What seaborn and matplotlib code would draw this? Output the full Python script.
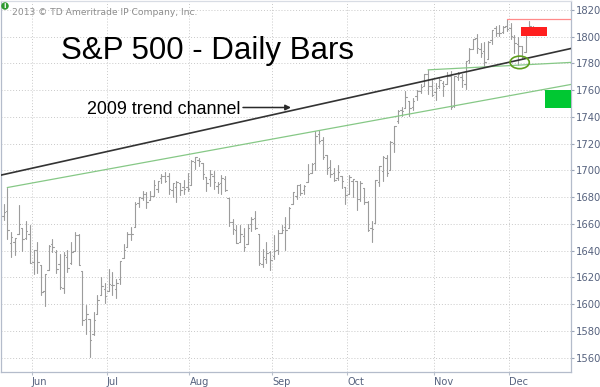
import numpy as np
import pandas as pd
import matplotlib
matplotlib.use("Agg")
import matplotlib.pyplot as plt
import seaborn as sns
from matplotlib.patches import Ellipse, Rectangle

# ---------------- data: S&P 500 daily bars, 21 May 2013 - 10 Dec 2013 ----------------
start_date = "2013-05-21"
end_date = "2013-12-10"
market_holidays = ["2013-05-27", "2013-07-04", "2013-09-02", "2013-11-28"]

open_ = [
    1666.20, 1669.39, 1646.00, 1646.67, 1652.63, 1656.57, 1649.14, 1652.13,
    1631.71, 1640.73, 1629.05, 1609.94, 1625.27, 1644.67, 1638.64, 1629.94, 1612.15, 1635.52,
    1630.64, 1639.77, 1651.83, 1624.62, 1588.62, 1588.77, 1577.52, 1592.27, 1606.44, 1611.12,
    1609.78, 1614.29, 1611.48, 1618.65, 1634.20, 1642.89, 1652.28, 1657.41, 1675.26, 1679.59, 1682.70,
    1677.91, 1681.05, 1686.15, 1694.41, 1695.53, 1696.06, 1685.21, 1687.31, 1690.32, 1687.92, 1687.76,
    1689.42, 1706.10, 1708.01, 1705.79, 1695.30, 1693.35, 1696.10, 1688.37, 1690.65, 1693.88, 1679.61,
    1661.22, 1655.25, 1646.81, 1650.66, 1645.03, 1659.92, 1664.29, 1652.54, 1630.25, 1633.50, 1638.89,
    1635.95, 1640.72, 1653.28, 1657.44, 1656.85, 1675.11, 1681.04, 1689.21, 1685.04, 1691.70,
    1697.73, 1705.74, 1727.34, 1722.44, 1711.44, 1702.60, 1698.02, 1694.05, 1695.52, 1687.26,
    1682.41, 1691.90, 1692.35, 1678.79, 1687.15, 1676.22, 1656.99, 1660.88, 1691.09, 1699.86, 1709.17,
    1700.49, 1720.17, 1736.72, 1745.20, 1746.48, 1752.27, 1747.48, 1756.01, 1759.42, 1762.93, 1772.27, 1763.24,
    1758.70, 1763.40, 1765.67, 1765.00, 1770.74, 1748.37, 1769.96, 1769.51, 1764.37, 1782.75,
    1790.66, 1798.82, 1790.79, 1789.59, 1783.52, 1797.21, 1806.33, 1802.87, 1803.48, 1808.09,
    1806.55, 1800.10, 1794.46, 1792.82, 1788.36, 1806.21, 1807.51,
]
high = [
    1674.93, 1687.18, 1654.19, 1649.78, 1674.21, 1656.57, 1661.91, 1658.99,
    1640.42, 1646.53, 1629.31, 1622.56, 1644.40, 1648.69, 1640.13, 1637.71, 1639.25, 1640.80,
    1646.50, 1654.19, 1652.45, 1624.62, 1599.19, 1588.77, 1593.79, 1606.83, 1620.07, 1615.94,
    1626.61, 1624.26, 1618.97, 1632.07, 1644.68, 1654.18, 1657.92, 1676.63, 1680.19, 1684.51, 1683.73,
    1684.75, 1693.12, 1692.09, 1697.61, 1698.78, 1698.38, 1690.94, 1691.85, 1690.92, 1693.19, 1698.43,
    1707.85, 1709.67, 1709.24, 1705.79, 1695.30, 1700.18, 1699.42, 1691.49, 1696.81, 1695.52, 1679.61,
    1663.60, 1659.18, 1658.92, 1656.99, 1659.55, 1664.85, 1669.51, 1652.54, 1641.18, 1646.41, 1640.08,
    1651.35, 1655.72, 1659.17, 1664.83, 1672.40, 1684.09, 1689.13, 1689.97, 1688.73, 1704.95,
    1705.52, 1729.44, 1729.86, 1725.23, 1711.44, 1707.63, 1701.71, 1703.85, 1695.52, 1687.26,
    1696.55, 1693.87, 1692.35, 1691.94, 1687.15, 1676.79, 1662.47, 1692.56, 1703.44, 1711.03, 1711.57,
    1721.76, 1733.45, 1745.31, 1747.79, 1759.33, 1752.27, 1753.94, 1759.82, 1764.99, 1772.09, 1775.22, 1768.53,
    1765.67, 1768.78, 1767.03, 1773.74, 1774.54, 1770.78, 1773.44, 1771.78, 1782.00, 1791.53,
    1798.22, 1802.33, 1795.51, 1795.73, 1797.16, 1804.84, 1808.10, 1808.42, 1808.27, 1813.55,
    1810.02, 1800.99, 1799.80, 1792.82, 1806.04, 1811.52, 1808.37,
]
low = [
    1662.67, 1648.86, 1635.53, 1636.88, 1652.63, 1640.05, 1648.61, 1630.74,
    1622.72, 1623.62, 1607.09, 1598.23, 1625.27, 1639.26, 1622.92, 1610.92, 1608.07, 1623.96,
    1630.34, 1639.77, 1628.91, 1584.32, 1577.70, 1560.33, 1577.09, 1592.27, 1606.44, 1601.06,
    1609.78, 1606.77, 1604.57, 1614.71, 1634.20, 1642.89, 1647.66, 1657.41, 1672.33, 1677.89, 1671.84,
    1677.91, 1681.05, 1684.08, 1690.67, 1691.31, 1682.57, 1680.07, 1676.03, 1681.86, 1682.42, 1684.94,
    1689.42, 1700.68, 1703.55, 1693.29, 1684.91, 1688.38, 1686.02, 1683.35, 1682.62, 1684.83, 1658.59,
    1652.61, 1645.84, 1646.08, 1639.43, 1645.03, 1654.81, 1656.02, 1629.05, 1627.47, 1630.88, 1625.27,
    1633.41, 1637.41, 1653.07, 1640.62, 1656.85, 1675.11, 1678.70, 1681.96, 1682.22, 1691.70,
    1697.73, 1700.35, 1720.20, 1708.89, 1697.10, 1694.90, 1691.88, 1693.11, 1687.11, 1674.99,
    1682.07, 1680.34, 1670.36, 1677.33, 1674.70, 1655.03, 1646.47, 1660.88, 1688.52, 1692.13, 1695.93,
    1700.49, 1714.12, 1735.74, 1740.67, 1746.48, 1740.50, 1745.50, 1752.45, 1757.67, 1762.93, 1757.24, 1755.72,
    1752.70, 1761.56, 1755.76, 1764.40, 1746.20, 1747.63, 1767.85, 1762.29, 1760.64, 1780.22,
    1790.66, 1788.00, 1784.72, 1777.23, 1783.52, 1794.70, 1800.58, 1800.77, 1802.77, 1803.98,
    1798.60, 1787.85, 1779.09, 1783.38, 1788.36, 1806.21, 1801.42,
]
close = [
    1669.16, 1655.35, 1650.51, 1649.60, 1660.06, 1648.36, 1654.41, 1630.74,
    1640.42, 1631.38, 1608.90, 1622.56, 1643.38, 1642.81, 1626.13, 1612.52, 1636.36, 1626.73,
    1639.04, 1651.81, 1628.93, 1588.19, 1592.43, 1573.09, 1588.03, 1603.26, 1613.20, 1606.28,
    1614.96, 1614.08, 1615.41, 1631.89, 1640.46, 1652.32, 1652.62, 1675.02, 1680.19, 1682.50, 1676.26,
    1680.91, 1689.37, 1692.09, 1695.53, 1692.39, 1685.94, 1690.25, 1691.65, 1685.33, 1685.96, 1685.73,
    1706.87, 1709.67, 1707.14, 1697.37, 1690.91, 1697.48, 1691.42, 1689.47, 1694.16, 1685.39, 1661.32,
    1655.83, 1646.06, 1652.35, 1642.80, 1656.96, 1663.50, 1656.78, 1630.48, 1634.96, 1638.17, 1632.97,
    1639.77, 1653.08, 1655.08, 1655.17, 1671.71, 1683.99, 1689.13, 1683.42, 1687.99, 1697.60,
    1704.76, 1725.52, 1722.34, 1709.91, 1701.84, 1697.42, 1692.77, 1698.67, 1691.75, 1681.55,
    1695.00, 1693.87, 1678.66, 1690.50, 1676.12, 1655.45, 1656.40, 1692.56, 1703.20, 1710.14, 1698.06,
    1721.54, 1733.15, 1744.50, 1744.66, 1754.67, 1746.38, 1752.07, 1759.77, 1762.11, 1771.95, 1763.31, 1756.54,
    1761.64, 1767.93, 1762.97, 1770.49, 1747.15, 1770.61, 1771.89, 1767.69, 1782.00, 1790.62,
    1798.18, 1791.53, 1787.87, 1781.37, 1795.85, 1804.76, 1802.48, 1802.75, 1807.23, 1805.81,
    1800.90, 1795.15, 1792.81, 1785.03, 1805.09, 1808.37, 1802.62,
]

month_labels = ["Jun", "Jul", "Aug", "Sep", "Oct", "Nov", "Dec"]
y_ticks = [1560, 1580, 1600, 1620, 1640, 1660, 1680, 1700, 1720, 1740, 1760, 1780, 1800, 1820]

# annotation lines (start date, start value, end value at right edge)
trend_2009_values = [1696.4, 1791.2]              # black 2009 channel line, left edge -> right edge
green_lower_start = ("2013-05-22", 1687.18)
green_lower_end_value = 1764.3
green_upper_start = ("2013-10-30", 1775.22)
green_upper_end_value = 1780.8
red_line_start = ("2013-11-29", 1813.55)
red_box_values = [1800.8, 1807.2]
green_box_values = [1746.9, 1760.4]
ellipse_value = 1780.8

title_text = "S&P 500 - Daily Bars"
channel_text = "2009 trend channel"
copyright_text = "2013 \u00a9 TD Ameritrade IP Company, Inc."

# ---------------- derived ----------------
dates = pd.bdate_range(start_date, end_date)
dates = dates[~dates.isin(pd.to_datetime(market_holidays))]
n = len(close)
assert len(dates) == n == len(open_) == len(high) == len(low)
date_pos = {d.strftime("%Y-%m-%d"): i for i, d in enumerate(dates)}
idx = np.arange(n)

tw = 0.38
rows = []
for i in idx:
    rows += [(i, low[i], 3 * i), (i, high[i], 3 * i),
             (i - tw, open_[i], 3 * i + 1), (i, open_[i], 3 * i + 1),
             (i, close[i], 3 * i + 2), (i + tw, close[i], 3 * i + 2)]
seg = pd.DataFrame(rows, columns=["x", "y", "seg"])

first_of_month = pd.Series(idx, index=dates).groupby(dates.to_period("M")).min()
month_pos = [p - 0.5 for p in first_of_month.values[1:]]

# ---------------- plot ----------------
sns.set_theme(style="white")
plt.rcParams["font.family"] = ["DejaVu Sans"]

W, H = 600, 387
fig = plt.figure(figsize=(W / 100, H / 100), dpi=100)
ax_left, ax_right, ax_top, ax_bot = 0.5, 571, 0.5, 372
ax = fig.add_axes([ax_left / W, (H - ax_bot) / H, (ax_right - ax_left) / W, (ax_bot - ax_top) / H])

XMIN, XMAX = -0.8, 151.06
YMIN, YMAX = 1549.2, 1827.1
ax.set_xlim(XMIN, XMAX)
ax.set_ylim(YMIN, YMAX)

grid_col = "#c9c9c9"
ax.set_yticks(y_ticks)
ax.set_xticks(month_pos)
ax.set_xticklabels(month_labels)
for lab in ax.get_xticklabels():
    lab.set_horizontalalignment("left")
ax.grid(True, linestyle=(0, (1, 2)), color=grid_col, linewidth=0.7)
ax.set_axisbelow(True)

sns.lineplot(data=seg, x="x", y="y", units="seg", estimator=None, sort=False,
             color="#9c9c9c", linewidth=0.8, ax=ax, legend=False)

# 2009 trend channel line
ax.plot([XMIN, XMAX], trend_2009_values, color="#333333", linewidth=1.2, zorder=4)
# lower green channel line
gx0 = date_pos[green_lower_start[0]]
ax.plot([gx0, XMAX], [green_lower_start[1], green_lower_end_value], color="#86c886", linewidth=0.9, zorder=3)
# upper short green line
ux0 = date_pos[green_upper_start[0]]
ax.plot([ux0, XMAX], [green_upper_start[1], green_upper_end_value], color="#86c886", linewidth=0.9, zorder=3)
# red all time high line
rx0 = date_pos[red_line_start[0]]
ax.plot([rx0, XMAX], [red_line_start[1], red_line_start[1]], color="#ff8a8a", linewidth=0.9, zorder=3)

# red / green boxes
ax.add_patch(Rectangle((137.8, red_box_values[0]), 6.9, red_box_values[1] - red_box_values[0],
                       facecolor="#ff1f1f", edgecolor="none", zorder=5))
ax.add_patch(Rectangle((144.1, green_box_values[0]), XMAX - 144.1, green_box_values[1] - green_box_values[0],
                       facecolor="#00c832", edgecolor="none", zorder=5))
# ellipse
ax.add_patch(Ellipse((137.4, ellipse_value), 5.1, 9.4, facecolor="none", edgecolor="#5e9e1e",
                     linewidth=1.2, zorder=6))

# axes styling
ax.yaxis.tick_right()
ax.set_xlabel("")
ax.set_ylabel("")
lab_col = "#56627e"
ax.tick_params(axis="y", which="major", right=True, left=False, direction="out", length=2.5,
               width=0.8, color="#9aa4b8", pad=1.2, labelsize=7.2, labelcolor=lab_col)
ax.tick_params(axis="x", which="major", bottom=True, direction="out", length=2.5, width=0.8,
               color="#b8c0cc", pad=0.8, labelsize=7.1, labelcolor=lab_col)
for side, sp in ax.spines.items():
    sp.set_visible(True)
    sp.set_color("#b4bccb")
    sp.set_linewidth(0.9)
ax.spines["top"].set_color("#d8dce4")

# texts
fig.text(61 / W, 1 - 59.5 / H, title_text, fontsize=22.5, family=["Liberation Sans"],
         color="black", va="baseline", ha="left")
fig.text(87 / W, 1 - 113.5 / H, channel_text, fontsize=12.9, family=["Liberation Sans"],
         color="black", va="baseline", ha="left")
ax.annotate("", xy=(291 / W, 1 - 107.5 / H), xytext=(243 / W, 1 - 107.5 / H),
            xycoords="figure fraction", textcoords="figure fraction",
            arrowprops=dict(arrowstyle="-|>", color="#2a2a2a", lw=1.1, mutation_scale=8,
                            shrinkA=0, shrinkB=0))
fig.text(12 / W, 1 - 12.5 / H, copyright_text, fontsize=6.6, color="#8c8c8c",
         va="center", ha="left")
fig.add_artist(Ellipse((5 / W, 1 - 6 / H), 7.5 / W, 7.5 / H, transform=fig.transFigure,
                       facecolor="#2f9a2f", edgecolor="none"))
fig.text(5 / W, 1 - 6.5 / H, "i", fontsize=5, color="white", ha="center", va="center",
         fontweight="bold")

fig.savefig("out.png", dpi=100)
